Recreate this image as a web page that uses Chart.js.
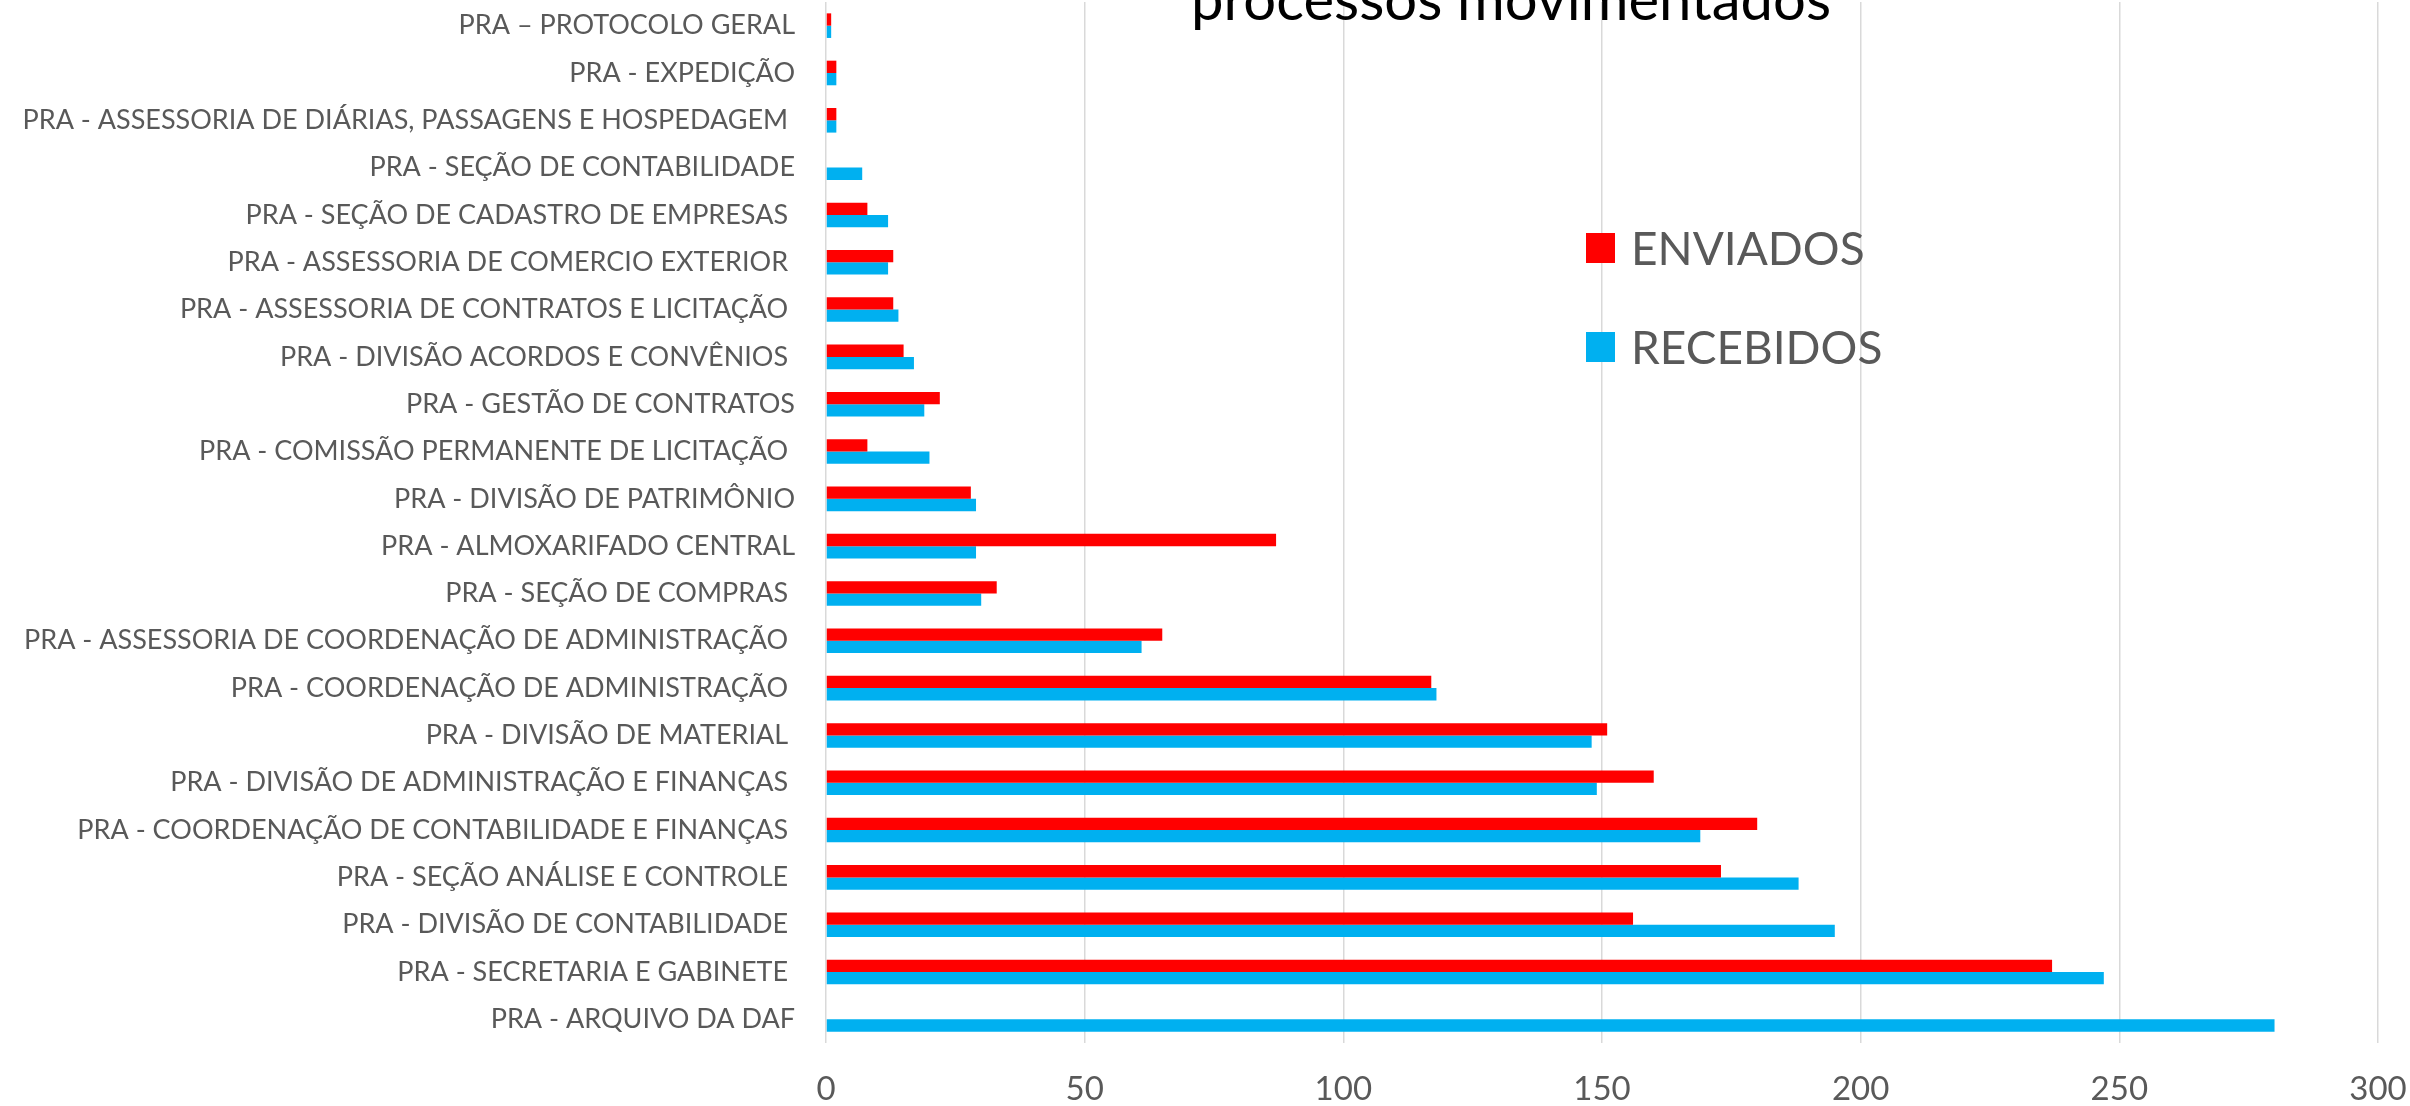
<!DOCTYPE html>
<html lang="pt-BR">
<head>
<meta charset="UTF-8">
<script src="https://cdn.jsdelivr.net/npm/chart.js"></script>
<style>
  body { margin: 0; background: #fff; }
  .chart-container { position: relative; width: 2410px; height: 1106px; }
</style>
</head>
<body>
<div class="chart-container"><canvas id="processos"></canvas></div>
<script>
// setores, de cima para baixo
const setores = [
  'PRA – PROTOCOLO GERAL',
  'PRA - EXPEDIÇÃO',
  'PRA - ASSESSORIA DE DIÁRIAS, PASSAGENS E HOSPEDAGEM ',
  'PRA - SEÇÃO DE CONTABILIDADE',
  'PRA - SEÇÃO DE CADASTRO DE EMPRESAS ',
  'PRA - ASSESSORIA DE COMERCIO EXTERIOR ',
  'PRA - ASSESSORIA DE CONTRATOS E LICITAÇÃO ',
  'PRA - DIVISÃO ACORDOS E CONVÊNIOS ',
  'PRA - GESTÃO DE CONTRATOS',
  'PRA - COMISSÃO PERMANENTE DE LICITAÇÃO ',
  'PRA - DIVISÃO DE PATRIMÔNIO',
  'PRA - ALMOXARIFADO CENTRAL',
  'PRA - SEÇÃO DE COMPRAS ',
  'PRA - ASSESSORIA DE COORDENAÇÃO DE ADMINISTRAÇÃO ',
  'PRA - COORDENAÇÃO DE ADMINISTRAÇÃO ',
  'PRA - DIVISÃO DE MATERIAL ',
  'PRA - DIVISÃO DE ADMINISTRAÇÃO E FINANÇAS ',
  'PRA - COORDENAÇÃO DE CONTABILIDADE E FINANÇAS ',
  'PRA - SEÇÃO ANÁLISE E CONTROLE ',
  'PRA - DIVISÃO DE CONTABILIDADE ',
  'PRA - SECRETARIA E GABINETE ',
  'PRA - ARQUIVO DA DAF'
];
const enviados  = [1, 2, 2, 0, 8, 13, 13, 15, 22, 8, 28, 87, 33, 65, 117, 151, 160, 180, 173, 156, 237, 0];
const recebidos = [1, 2, 2, 7, 12, 12, 14, 17, 19, 20, 29, 29, 30, 61, 118, 148, 149, 169, 188, 195, 247, 280];
const ticksX = [0, 50, 100, 150, 200, 250, 300];

const FONTE = 'Lato';
const CINZA = '#595959';

// legenda desenhada dentro da area do grafico
const legendaPlugin = {
  id: 'legenda',
  afterDraw(chart, args, opts) {
    const ctx = chart.ctx;
    ctx.save();
    ctx.font = opts.size + 'px ' + FONTE;
    ctx.textBaseline = 'middle';
    chart.data.datasets.forEach((ds, i) => {
      const y = opts.top + i * opts.spacing;
      ctx.fillStyle = ds.backgroundColor;
      ctx.fillRect(opts.left, y - 15, 29, 30);
      ctx.fillStyle = CINZA;
      ctx.fillText(ds.label, opts.left + 45, y + 2);
    });
    ctx.restore();
  }
};

// titulo cortado no topo, como no original
const tituloPlugin = {
  id: 'titulo',
  afterDraw(chart, args, opts) {
    const ctx = chart.ctx;
    ctx.save();
    ctx.font = opts.size + 'px ' + FONTE;
    ctx.fillStyle = '#000';
    ctx.textAlign = 'center';
    ctx.textBaseline = 'alphabetic';
    ctx.fillText(opts.text, opts.x, opts.y);
    ctx.restore();
  }
};

const ctx = document.getElementById('processos').getContext('2d');
const chart = new Chart(ctx, {
  type: 'bar',
  data: {
    labels: setores,
    datasets: [
      { label: 'ENVIADOS', data: enviados, backgroundColor: '#ff0000', borderWidth: 0 },
      { label: 'RECEBIDOS', data: recebidos, backgroundColor: '#00b0f0', borderWidth: 0 }
    ]
  },
  options: {
    indexAxis: 'y',
    responsive: true,
    maintainAspectRatio: false,
    animation: false,
    layout: { padding: { top: 2, right: 32, left: 0, bottom: 0 } },
    datasets: { bar: { categoryPercentage: 0.52, barPercentage: 1.0 } },
    scales: {
      x: {
        min: ticksX[0],
        max: ticksX[ticksX.length - 1],
        afterBuildTicks: (scale) => { scale.ticks = ticksX.map(v => ({ value: v })); },
        grid: { color: '#d9d9d9', lineWidth: 1.5, drawTicks: false },
        border: { display: false },
        ticks: { color: CINZA, font: { family: FONTE, size: 33 }, padding: 27 },
        afterFit: (scale) => {
          scale.height = 63;
          scale.paddingLeft = 0;
          scale.paddingRight = 0;
        }
      },
      y: {
        grid: { display: false, drawTicks: false },
        border: { display: false },
        ticks: { color: CINZA, font: { family: FONTE, size: 27 }, padding: 31, autoSkip: false },
        afterFit: (scale) => {
          scale.width = 826;
          scale.paddingTop = 0;
          scale.paddingBottom = 0;
        }
      }
    },
    plugins: {
      legend: { display: false },
      tooltip: { enabled: false },
      legenda: { left: 1586, top: 248, spacing: 99, size: 46 },
      titulo: { text: 'processos movimentados', x: 1511, y: 20, size: 58 }
    }
  },
  plugins: [legendaPlugin, tituloPlugin]
});
</script>
</body>
</html>
